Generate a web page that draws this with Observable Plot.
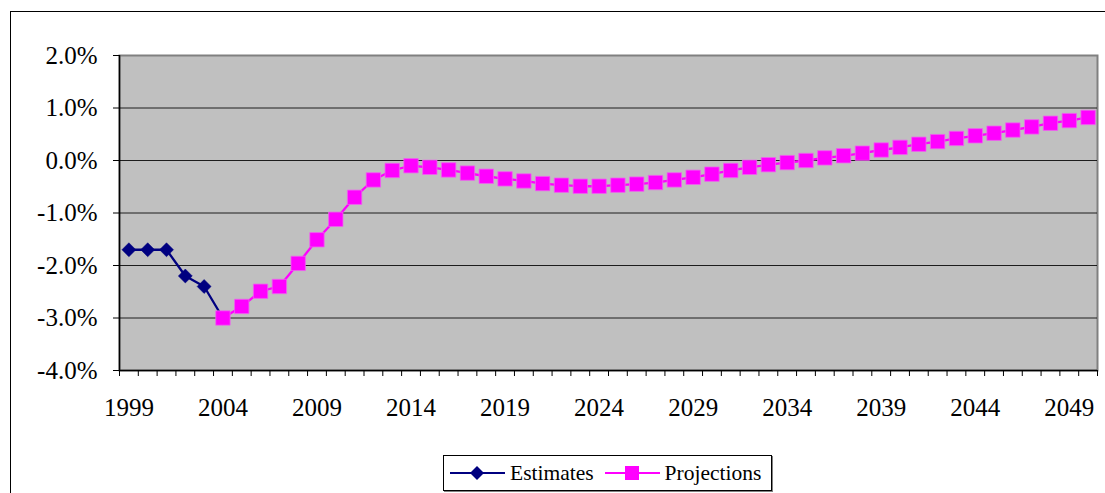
<!DOCTYPE html>
<html>
<head>
<meta charset="utf-8">
<script src="https://cdn.jsdelivr.net/npm/d3@7"></script>
<script src="https://cdn.jsdelivr.net/npm/@observablehq/plot@0.6"></script>
<style>
  html, body { margin: 0; padding: 0; background: #fff; overflow: hidden; }
  body { width: 1105px; height: 493px; position: relative; font-family: "Liberation Serif"; }
  #frame { position: absolute; left: 10px; top: 11px; width: 1200px; height: 600px; border: 1px solid #000; }
  #chart { position: absolute; left: 0; top: 0; }
  #legend { position: absolute; left: 443px; top: 455px; width: 327px; height: 34px; border: 1px solid #000;
            box-shadow: 1px 1px 0 #808080; display: flex; align-items: center; font-size: 21.5px; color: #000; background: #fff;
            font-family: "Liberation Serif"; }
  #legend .item { display: flex; align-items: center; }
  #legend svg { display: block; }
</style>
</head>
<body>
<div id="frame"></div>
<div id="chart"></div>
<div id="legend"></div>
<script>
const seriesNames = ["Estimates", "Projections"];
const estimateYears = [1999, 2000, 2001, 2002, 2003, 2004];
const estimateValues = [-1.7, -1.7, -1.7, -2.2, -2.4, -3.0];
const projectionYears = [2004, 2005, 2006, 2007, 2008, 2009, 2010, 2011, 2012, 2013,
  2014, 2015, 2016, 2017, 2018, 2019, 2020, 2021, 2022, 2023,
  2024, 2025, 2026, 2027, 2028, 2029, 2030, 2031, 2032, 2033,
  2034, 2035, 2036, 2037, 2038, 2039, 2040, 2041, 2042, 2043,
  2044, 2045, 2046, 2047, 2048, 2049, 2050];
const projectionValues = [-3.0, -2.78, -2.49, -2.4, -1.96, -1.51, -1.12, -0.7, -0.37, -0.19,
  -0.1, -0.13, -0.18, -0.24, -0.3, -0.35, -0.39, -0.44, -0.47, -0.49,
  -0.49, -0.47, -0.45, -0.42, -0.37, -0.32, -0.26, -0.19, -0.13, -0.08,
  -0.04, 0.0, 0.05, 0.09, 0.14, 0.2, 0.25, 0.31, 0.36, 0.42,
  0.47, 0.52, 0.58, 0.64, 0.71, 0.76, 0.82];
const xTickLabels = [1999, 2004, 2009, 2014, 2019, 2024, 2029, 2034, 2039, 2044, 2049];
const yTicks = [-4, -3, -2, -1, 0, 1, 2];
const gridValues = [-3, -2, -1, 0, 1];
const colors = { Estimates: "#000080", Projections: "#FF00FF" };

const estimates = estimateYears.map((year, i) => ({ year, value: estimateValues[i] }));
const projections = projectionYears.map((year, i) => ({ year, value: projectionValues[i] }));
const allYears = Array.from(new Set([...estimateYears, ...projectionYears])).sort((a, b) => a - b);
const boundaries = [...allYears.map(y => y - 0.5), allYears[allYears.length - 1] + 0.5];
const xDomain = [boundaries[0], boundaries[boundaries.length - 1]];

const chart = Plot.plot({
  width: 1105,
  height: 440,
  marginLeft: 119,
  marginRight: 8,
  marginTop: 55,
  marginBottom: 70,
  style: { fontFamily: "Liberation Serif", fontSize: "25px", color: "#000", background: "transparent", overflow: "visible" },
  x: { type: "linear", domain: xDomain },
  y: { domain: [-4, 2] },
  marks: [
    Plot.frame({ fill: "#C0C0C0", stroke: "#808080", strokeWidth: 2 }),
    Plot.ruleY(gridValues, { stroke: "#000", strokeWidth: 1, strokeOpacity: 0.85 }),
    Plot.ruleX([xDomain[0]], { stroke: "#000", strokeWidth: 1.5 }),
    Plot.ruleY([-4], { stroke: "#000", strokeWidth: 1.5 }),
    Plot.axisY({ ticks: yTicks, tickSize: 6, tickPadding: 16, tickFormat: d => d.toFixed(1) + "%", fontSize: 25, label: null, stroke: "#000" }),
    Plot.axisX({ ticks: boundaries, tickSize: 6, tickFormat: () => "", label: null, stroke: "#000" }),
    Plot.axisX({ ticks: xTickLabels, tickSize: 0, tickPadding: 28, tickFormat: d => String(d), fontSize: 25, label: null }),
    Plot.line(estimates, { x: "year", y: "value", stroke: colors.Estimates, strokeWidth: 2.3 }),
    Plot.line(projections, { x: "year", y: "value", stroke: colors.Projections, strokeWidth: 2.3 }),
    Plot.dot(estimates, { x: "year", y: "value", symbol: "diamond2", r: 6.3, fill: colors.Estimates, stroke: colors.Estimates, strokeWidth: 0.5 }),
    Plot.dot(projections, { x: "year", y: "value", symbol: "square", r: 8.1, fill: colors.Projections, stroke: "#F060F0", strokeWidth: 0.8 })
  ]
});
document.getElementById("chart").appendChild(chart);
d3.select(chart).selectAll("text").attr("font-family", "Liberation Serif").style("font-family", "Liberation Serif");

// Legend
const legend = document.getElementById("legend");
const symbolFor = { Estimates: "diamond", Projections: "square" };
seriesNames.forEach((name, i) => {
  const item = document.createElement("div");
  item.className = "item";
  item.style.marginLeft = i === 0 ? "6px" : "11px";
  const c = colors[name];
  const marker = symbolFor[name] === "diamond"
    ? `<path d="M27,10 L34,17 L27,24 L20,17 Z" fill="${c}"/>`
    : `<rect x="20" y="10" width="14" height="14" fill="${c}"/>`;
  item.innerHTML = `<svg width="56" height="34"><line x1="0" x2="55" y1="17" y2="17" stroke="${c}" stroke-width="2"/>${marker}</svg><span style="margin-left:4px">${name}</span>`;
  legend.appendChild(item);
});
</script>
</body>
</html>
